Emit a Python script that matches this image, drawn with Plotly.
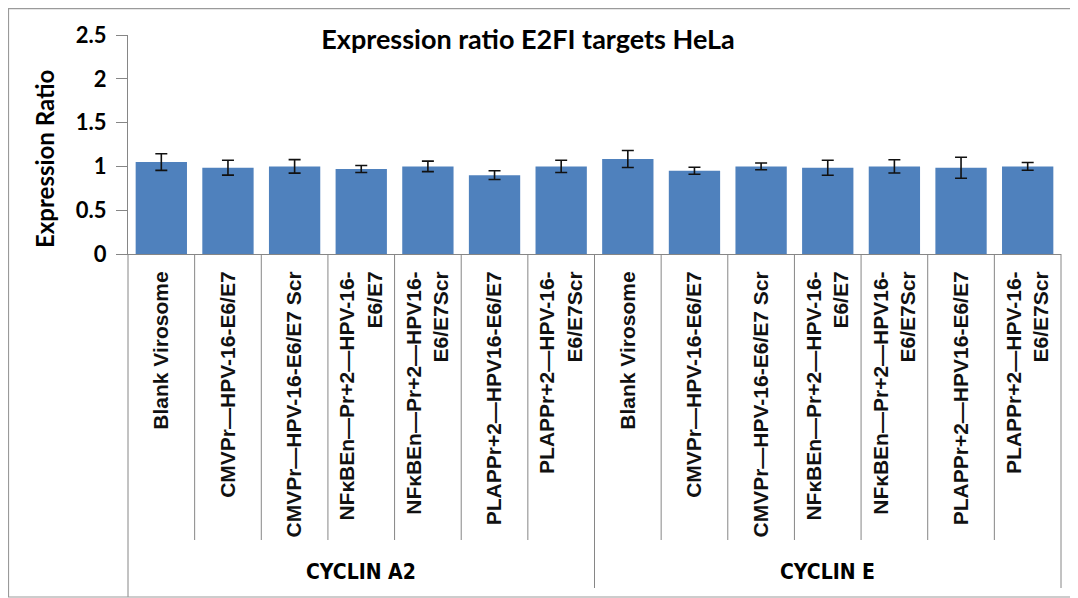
import plotly.graph_objects as go

# ---------------- data ----------------
groups = ["CYCLIN A2", "CYCLIN E"]
treatments = [
    "Blank Virosome",
    "CMVPr—HPV-16-E6/E7",
    "CMVPr—HPV-16-E6/E7 Scr",
    "NFκBEn—Pr+2—HPV-16-<br>E6/E7",
    "NFκBEn—Pr+2—HPV16-<br>E6/E7Scr",
    "PLAPPr+2—HPV16-E6/E7",
    "PLAPPr+2—HPV-16-<br>E6/E7Scr",
]
cyclin_a2 = [1.05, 0.985, 1.00, 0.97, 1.00, 0.90, 1.00]
cyclin_a2_err = [0.095, 0.085, 0.077, 0.04, 0.06, 0.05, 0.07]
cyclin_e = [1.085, 0.95, 1.00, 0.985, 1.00, 0.985, 1.00]
cyclin_e_err = [0.097, 0.04, 0.038, 0.086, 0.076, 0.12, 0.044]
y_ticks = [0, 0.5, 1, 1.5, 2, 2.5]

title_text = "Expression ratio E2FI targets HeLa"
y_title = "Expression Ratio"

# -------------- layout constants --------------
W, H = 1078, 598
ML, MR, MT, MB = 120, 25, 27, 352
PW, PH = W - ML - MR, H - MT - MB
BAR_COLOR = "#4F81BD"
LINE_COLOR = "#868686"

values = cyclin_a2 + cyclin_e
errors = cyclin_a2_err + cyclin_e_err
labels = treatments + treatments
n = len(values)
xs = list(range(n))
n_per_group = len(treatments)


def py(px_below_axis):
    """paper y for a pixel distance below the x axis"""
    return -px_below_axis / PH


fig = go.Figure()
fig.add_trace(go.Bar(
    x=xs, y=values,
    marker=dict(color=BAR_COLOR, line=dict(width=0)),
    error_y=dict(type="data", array=errors, visible=True,
                 color="#111111", thickness=1.6, width=6),
    showlegend=False,
))

shapes = []
# category separators (below the axis)
for i in range(n + 1):
    if i % n_per_group == 0:
        length = 343 if i == 0 else 334
    else:
        length = 286
    shapes.append(dict(type="line", xref="x domain", yref="paper",
                       x0=i / n, x1=i / n, y0=0, y1=py(length),
                       line=dict(color=LINE_COLOR, width=1)))

# outer chart border (top, left, bottom)
bx0 = (0.5 - ML) / PW
bx1 = (W + 20 - ML) / PW
by_top = 1 + (MT - 0.6) / PH
by_bot = py(589 - (MT + PH))
shapes.append(dict(type="path", xref="paper", yref="paper",
                   path=f"M {bx1} {by_top} L {bx0} {by_top} L {bx0} {by_bot} L {bx1} {by_bot}",
                   line=dict(color="#9a9a9a", width=1.2)))

annotations = []
for gi, g in enumerate(groups):
    center = gi * n_per_group + (n_per_group - 1) / 2
    annotations.append(dict(
        x=center, xref="x", y=py(318), yref="paper",
        text=f"<b>{g}</b>", showarrow=False, xanchor="center", yanchor="middle",
        font=dict(family="Liberation Sans Narrow, DejaVu Sans Condensed, Liberation Sans",
                  size=21, color="#000000"),
    ))

# y-axis title (placed as in the reference, slightly below the plot centre)
annotations.append(dict(
    x=(36 - ML) / PW, xref="paper", y=1 - (151 - MT) / PH, yref="paper",
    text=f"<b>{y_title}</b>", textangle=-90, showarrow=False,
    xanchor="center", yanchor="middle",
    font=dict(family="Lato, Open Sans, sans-serif", size=24, color="#000000"),
))

fig.update_layout(
    width=W, height=H,
    margin=dict(l=ML, r=MR, t=MT, b=MB, pad=0),
    paper_bgcolor="white", plot_bgcolor="white",
    bargap=0.23,
    title=dict(text=f"<b>{title_text}</b>", x=520 / W, xref="container", xanchor="center",
               y=1 - 32 / H, yref="container", yanchor="middle",
               font=dict(family="Lato, Open Sans, sans-serif", size=27, color="#000000")),
    xaxis=dict(
        range=[-0.5, n - 0.5], tickmode="array", tickvals=xs,
        ticktext=[f"<b>{t}</b>" for t in labels],
        tickangle=-90, showline=True, linecolor=LINE_COLOR, linewidth=1,
        ticks="", showgrid=False, zeroline=False, ticklabelstandoff=8,
        tickfont=dict(family="Liberation Sans, Arial, sans-serif", size=21, color="#111111"),
    ),
    yaxis=dict(
        range=[0, 2.5], tickmode="array", tickvals=y_ticks,
        ticktext=[f"<b>{t:g}</b>" for t in y_ticks],
        showline=True, linecolor=LINE_COLOR, linewidth=1,
        ticks="outside", ticklen=11, tickcolor=LINE_COLOR, tickwidth=1,
        showgrid=False, zeroline=False, ticklabelstandoff=5,
        tickfont=dict(family="Lato, Open Sans, sans-serif", size=22, color="#000000"),
    ),
    shapes=shapes,
    annotations=annotations,
)

fig.write_html("out.html")
